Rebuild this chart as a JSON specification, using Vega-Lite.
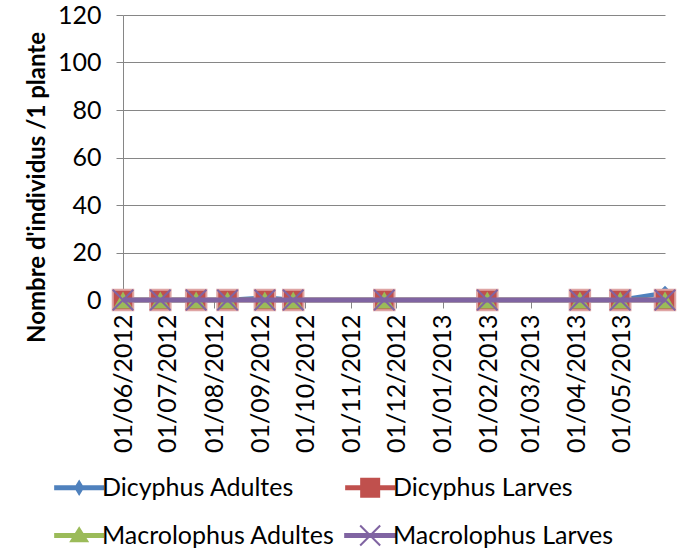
{
  "$schema": "https://vega.github.io/schema/vega-lite/v6.json",
  "width": 542,
  "height": 285,
  "autosize": {"type": "none"},
  "padding": {"left": 123, "top": 15, "right": 17, "bottom": 252},
  "background": "white",
  "config": {
    "font": "Lato",
    "view": {"stroke": null},
    "axis": {"labelColor": "#000000", "titleColor": "#000000", "labelFont": "Lato", "titleFont": "Lato"}
  },
  "data": {
    "values": [
      {"date": "2012-06-01", "series": "Dicyphus Adultes", "value": 0},
      {"date": "2012-06-26", "series": "Dicyphus Adultes", "value": 0},
      {"date": "2012-07-20", "series": "Dicyphus Adultes", "value": 0},
      {"date": "2012-08-10", "series": "Dicyphus Adultes", "value": 0},
      {"date": "2012-09-04", "series": "Dicyphus Adultes", "value": 1},
      {"date": "2012-09-23", "series": "Dicyphus Adultes", "value": 0},
      {"date": "2012-11-23", "series": "Dicyphus Adultes", "value": 0},
      {"date": "2013-01-31", "series": "Dicyphus Adultes", "value": 0},
      {"date": "2013-04-03", "series": "Dicyphus Adultes", "value": 0},
      {"date": "2013-04-30", "series": "Dicyphus Adultes", "value": 0},
      {"date": "2013-05-30", "series": "Dicyphus Adultes", "value": 3},
      {"date": "2012-06-01", "series": "Dicyphus Larves", "value": 0},
      {"date": "2012-06-26", "series": "Dicyphus Larves", "value": 0},
      {"date": "2012-07-20", "series": "Dicyphus Larves", "value": 0},
      {"date": "2012-08-10", "series": "Dicyphus Larves", "value": 0},
      {"date": "2012-09-04", "series": "Dicyphus Larves", "value": 0},
      {"date": "2012-09-23", "series": "Dicyphus Larves", "value": 0},
      {"date": "2012-11-23", "series": "Dicyphus Larves", "value": 0},
      {"date": "2013-01-31", "series": "Dicyphus Larves", "value": 0},
      {"date": "2013-04-03", "series": "Dicyphus Larves", "value": 0},
      {"date": "2013-04-30", "series": "Dicyphus Larves", "value": 0},
      {"date": "2013-05-30", "series": "Dicyphus Larves", "value": 0},
      {"date": "2012-06-01", "series": "Macrolophus Adultes", "value": 0},
      {"date": "2012-06-26", "series": "Macrolophus Adultes", "value": 0},
      {"date": "2012-07-20", "series": "Macrolophus Adultes", "value": 0},
      {"date": "2012-08-10", "series": "Macrolophus Adultes", "value": 0},
      {"date": "2012-09-04", "series": "Macrolophus Adultes", "value": 0},
      {"date": "2012-09-23", "series": "Macrolophus Adultes", "value": 0},
      {"date": "2012-11-23", "series": "Macrolophus Adultes", "value": 0},
      {"date": "2013-01-31", "series": "Macrolophus Adultes", "value": 0},
      {"date": "2013-04-03", "series": "Macrolophus Adultes", "value": 0},
      {"date": "2013-04-30", "series": "Macrolophus Adultes", "value": 0},
      {"date": "2013-05-30", "series": "Macrolophus Adultes", "value": 0},
      {"date": "2012-06-01", "series": "Macrolophus Larves", "value": 0},
      {"date": "2012-06-26", "series": "Macrolophus Larves", "value": 0},
      {"date": "2012-07-20", "series": "Macrolophus Larves", "value": 0},
      {"date": "2012-08-10", "series": "Macrolophus Larves", "value": 0},
      {"date": "2012-09-04", "series": "Macrolophus Larves", "value": 0},
      {"date": "2012-09-23", "series": "Macrolophus Larves", "value": 0},
      {"date": "2012-11-23", "series": "Macrolophus Larves", "value": 0},
      {"date": "2013-01-31", "series": "Macrolophus Larves", "value": 0},
      {"date": "2013-04-03", "series": "Macrolophus Larves", "value": 0},
      {"date": "2013-04-30", "series": "Macrolophus Larves", "value": 0},
      {"date": "2013-05-30", "series": "Macrolophus Larves", "value": 0}
    ]
  },
  "encoding": {
    "x": {
      "field": "date",
      "type": "temporal",
      "scale": {
        "type": "utc",
        "domain": [
          {"year": 2012, "month": 6, "date": 1, "utc": true},
          {"year": 2013, "month": 5, "date": 30, "utc": true}
        ]
      },
      "axis": {
        "title": null,
        "format": "%d/%m/%Y",
        "values": [
          {"year": 2012, "month": 6, "date": 1, "utc": true},
          {"year": 2012, "month": 7, "date": 1, "utc": true},
          {"year": 2012, "month": 8, "date": 1, "utc": true},
          {"year": 2012, "month": 9, "date": 1, "utc": true},
          {"year": 2012, "month": 10, "date": 1, "utc": true},
          {"year": 2012, "month": 11, "date": 1, "utc": true},
          {"year": 2012, "month": 12, "date": 1, "utc": true},
          {"year": 2013, "month": 1, "date": 1, "utc": true},
          {"year": 2013, "month": 2, "date": 1, "utc": true},
          {"year": 2013, "month": 3, "date": 1, "utc": true},
          {"year": 2013, "month": 4, "date": 1, "utc": true},
          {"year": 2013, "month": 5, "date": 1, "utc": true}
        ],
        "labelAngle": -90,
        "labelFontSize": 25,
        "labelPadding": 6,
        "labelOverlap": false,
        "labelFlush": false,
        "labelBound": false,
        "grid": false,
        "tickSize": 8,
        "tickColor": "#868686",
        "domainColor": "#868686",
        "domainWidth": 1
      }
    },
    "y": {
      "field": "value",
      "type": "quantitative",
      "scale": {"domain": [0, 120], "nice": false, "zero": true},
      "axis": {
        "title": "Nombre d'individus /1 plante",
        "titleFontSize": 24,
        "titleFontWeight": "bold",
        "titleX": -86,
        "titleY": 172,
        "titleBaseline": "middle",
        "titleAngle": -90,
        "values": [0, 20, 40, 60, 80, 100, 120],
        "labelFontSize": 25,
        "labelPadding": 15,
        "tickSize": 7,
        "tickColor": "#868686",
        "domainColor": "#868686",
        "gridColor": "#868686",
        "gridWidth": 1
      }
    }
  },
  "layer": [
    {
      "transform": [{"filter": "datum.series !== 'Macrolophus Larves'"}],
      "mark": {"type": "line", "strokeWidth": 4.5},
      "encoding": {
        "color": {
          "field": "series",
          "type": "nominal",
          "scale": {
            "domain": ["Dicyphus Adultes", "Dicyphus Larves", "Macrolophus Adultes", "Macrolophus Larves"],
            "range": ["#4F81BD", "#C0504D", "#9BBB59", "#8064A2"]
          },
          "legend": {
            "title": null,
            "orient": "none",
            "legendX": -73,
            "legendY": 460,
            "direction": "horizontal",
            "columns": 2,
            "columnPadding": 6,
            "rowPadding": 20,
            "labelFontSize": 25,
            "labelFont": "Lato",
            "labelColor": "#000000",
            "labelOffset": 27,
            "labelLimit": 0,
            "symbolSize": 278,
            "symbolType": "square",
            "encode": {
              "symbols": {
                "update": {
                  "shape": {"signal": "datum.value === 'Dicyphus Adultes' ? 'M-1,-0.3H5V0.3H-1Z M2,-1L2.6,0L2,1L1.4,0Z' : datum.value === 'Dicyphus Larves' ? 'M-1,-0.3H5V0.3H-1Z M0.8,-1.2H3.2V1.2H0.8Z' : datum.value === 'Macrolophus Adultes' ? 'M-1,-0.3H5V0.3H-1Z M2,-1.1L3.2,0.8H0.8Z' : 'M-1,-0.18H5V0.18H-1Z M0.8,-1.2L3.2,1.2M0.8,1.2L3.2,-1.2'"},
                  "fill": {"signal": "datum.value === 'Dicyphus Adultes' ? '#4F81BD' : datum.value === 'Dicyphus Larves' ? '#C0504D' : datum.value === 'Macrolophus Adultes' ? '#9BBB59' : '#8064A2'"},
                  "stroke": {"signal": "datum.value === 'Macrolophus Larves' ? '#8064A2' : 'transparent'"},
                  "strokeWidth": {"signal": "datum.value === 'Macrolophus Larves' ? 2 : 0"},
                  "opacity": {"value": 1},
                  "fillOpacity": {"value": 1}
                }
              }
            }
          }
        }
      }
    },
    {
      "transform": [{"filter": "datum.series === 'Dicyphus Adultes'"}],
      "mark": {"type": "point", "shape": "diamond", "filled": true, "size": 210, "color": "#4F81BD", "opacity": 1}
    },
    {
      "transform": [{"filter": "datum.series === 'Dicyphus Larves'"}],
      "mark": {"type": "point", "shape": "square", "filled": true, "size": 420, "fill": "#C0504D", "stroke": "#DFA5A4", "strokeWidth": 2, "opacity": 1}
    },
    {
      "transform": [{"filter": "datum.series === 'Macrolophus Adultes'"}],
      "mark": {"type": "point", "shape": "triangle-up", "filled": true, "size": 380, "color": "#9BBB59", "opacity": 1}
    },
    {
      "transform": [{"filter": "datum.series === 'Macrolophus Larves'"}],
      "mark": {"type": "line", "strokeWidth": 5, "color": "#8064A2"}
    },
    {
      "transform": [{"filter": "datum.series === 'Macrolophus Larves'"}],
      "mark": {"type": "point", "shape": "M-1,-1L1,1M-1,1L1,-1", "filled": false, "size": 420, "stroke": "#8064A2", "strokeWidth": 2, "opacity": 1}
    }
  ]
}
